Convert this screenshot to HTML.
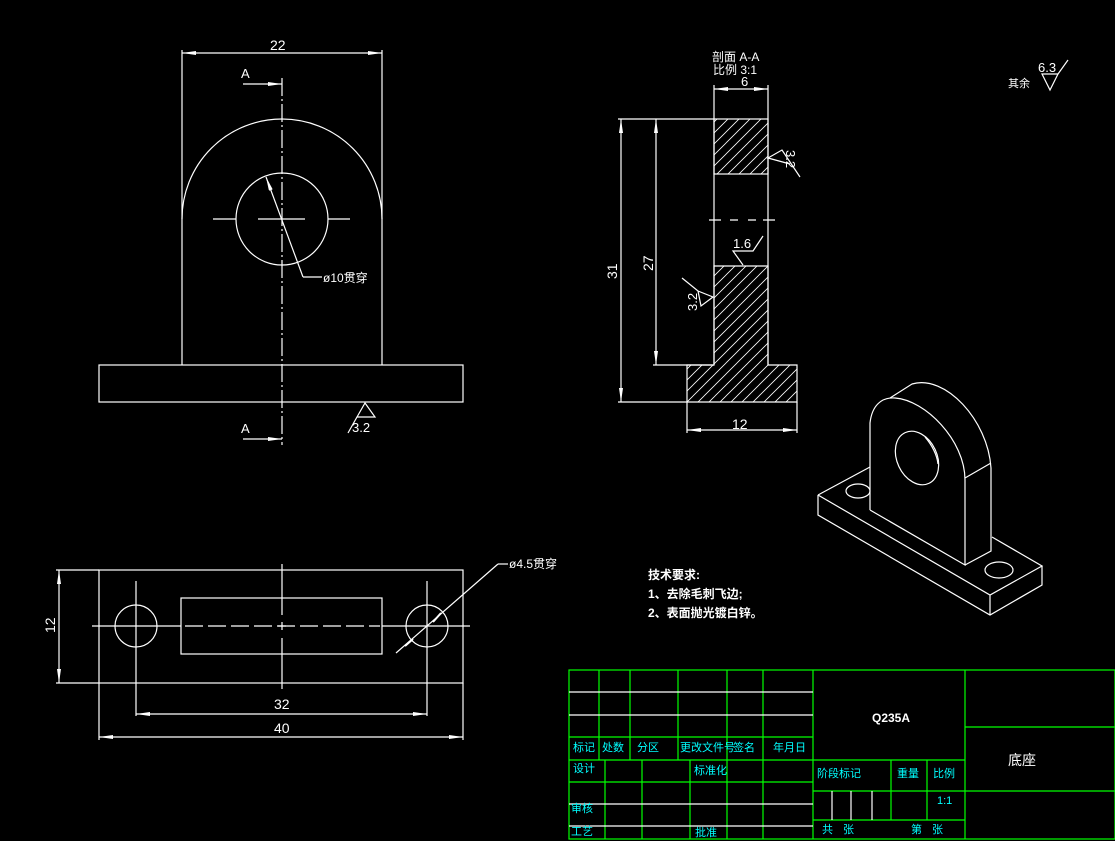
<!DOCTYPE html>
<html><head><meta charset="utf-8">
<style>
html,body{margin:0;padding:0;background:#000;}
svg{display:block;}
text{font-family:"Liberation Sans","WenQuanYi Zen Hei","Noto Sans CJK SC",sans-serif;}
</style></head>
<body>
<svg width="1115" height="841" viewBox="0 0 1115 841" xmlns="http://www.w3.org/2000/svg">
<defs>
<marker id="a" viewBox="0 0 14 4" refX="14" refY="2" markerWidth="14" markerHeight="4" markerUnits="userSpaceOnUse" orient="auto-start-reverse">
<path d="M0,0 L14,2 L0,4 Z" fill="#fff"/></marker>
<pattern id="h" patternUnits="userSpaceOnUse" width="11" height="11">
<path d="M-3,3 L3,-3 M0,11 L11,0 M8,14 L14,8" stroke="#fff" stroke-width="0.8"/></pattern>
</defs>
<rect width="1115" height="841" fill="#000"/>
<g fill="none" stroke="#fff" stroke-width="1.2">
<!-- FRONT VIEW -->
<line x1="182" y1="50" x2="182" y2="365"/>
<line x1="382" y1="50" x2="382" y2="365"/>
<line x1="182" y1="53" x2="382" y2="53" marker-start="url(#a)" marker-end="url(#a)"/>
<path d="M182,219 A100,100 0 0 1 382,219"/>
<circle cx="282" cy="219" r="46"/>
<path d="M213,219 H236 M258,219 H305 M328,219 H350"/>
<line x1="282" y1="78" x2="282" y2="445" stroke-dasharray="18,3,2,3"/>
<rect x="99" y="365" width="364" height="37"/>
<line x1="243" y1="84" x2="282" y2="84" marker-end="url(#a)"/>
<line x1="243" y1="439" x2="282" y2="439" marker-end="url(#a)"/>
<line x1="303" y1="277" x2="266" y2="177" marker-end="url(#a)"/>
<line x1="303" y1="277" x2="322" y2="277"/>
<path d="M348,433 L357,417 L375,417 L365,403 L357,417"/>
<!-- TOP VIEW -->
<rect x="99" y="570" width="364" height="113"/>
<rect x="181" y="598" width="201" height="56"/>
<circle cx="136" cy="626" r="21"/>
<circle cx="427" cy="626" r="21"/>
<path d="M92,626 H181 M382,626 H470"/>
<line x1="185" y1="626" x2="380" y2="626" stroke-dasharray="18,5"/>
<path d="M282,564 V615 M278,626 H286 M282,622 V630 M282,638 V689"/>
<path d="M136,581 V716 M427,581 V716"/>
<line x1="136" y1="714" x2="427" y2="714" marker-start="url(#a)" marker-end="url(#a)"/>
<path d="M99,683 V740 M463,683 V740"/>
<line x1="99" y1="737" x2="463" y2="737" marker-start="url(#a)" marker-end="url(#a)"/>
<path d="M56,570 H99 M56,683 H99"/>
<line x1="59" y1="570" x2="59" y2="683" marker-start="url(#a)" marker-end="url(#a)"/>
<line x1="396" y1="653" x2="498" y2="564"/>
<line x1="498" y1="564" x2="508" y2="564"/>
<path d="M427,626 m14,-13 l-8,9 M413,639 l-8,7" stroke-width="2"/>
<!-- SECTION A-A -->
<rect x="714" y="119" width="54" height="55" fill="url(#h)"/>
<path d="M714,266 H768 V365 H797 V402 H687 V365 H714 Z" fill="url(#h)"/>
<path d="M714,85 V365 M768,85 V365"/>
<line x1="714" y1="89" x2="768" y2="89" marker-start="url(#a)" marker-end="url(#a)"/>
<path d="M709,220 H721 M730,220 H738 M748,220 H756 M763,220 H775"/>
<path d="M618,119 H714 M618,402 H687 M653,365 H714"/>
<line x1="621" y1="119" x2="621" y2="402" marker-start="url(#a)" marker-end="url(#a)"/>
<line x1="656" y1="119" x2="656" y2="365" marker-start="url(#a)" marker-end="url(#a)"/>
<path d="M687,402 V433 M797,402 V433"/>
<line x1="687" y1="430" x2="797" y2="430" marker-start="url(#a)" marker-end="url(#a)"/>
<path d="M800,177 L782,150 L768,158 L790,164"/>
<path d="M763,236 L753,251 L733,251 L743,265"/>
<path d="M682,278 L698,291 L713,297 L701,306 L698,291"/>
<!-- 6.3 -->
<path d="M1068,60 L1058,74 L1042,74 L1050,90 L1058,74"/>
<!-- ISOMETRIC -->
<path d="M818,495 L990,595 L1042,566 L992,537 M818,495 L870,467 M818,495 V515 L990,615 L1042,585 V566 M990,595 V615"/>
<ellipse cx="858" cy="491" rx="12" ry="7"/>
<ellipse cx="999" cy="570" rx="14" ry="8"/>
<path d="M870,510 V423 C872,405 882,397 895,398 C925,400 965,440 965,480 V565 L870,510"/>
<path d="M890,398 L912,384 C945,374 988,420 991,468 V551 L965,565 M965,478 L991,463"/>
<ellipse cx="917" cy="458" rx="20" ry="28" transform="rotate(-25 917 458)"/>
<path d="M925,437 C932,445 937,455 938,464"/>
</g>
<g fill="#fff" font-size="13">
<text x="270" y="50" font-size="14">22</text>
<text x="241" y="78" font-size="13">A</text>
<text x="241" y="433" font-size="13">A</text>
<text x="323" y="282" font-size="12">ø10贯穿</text>
<text x="352" y="432" font-size="13">3.2</text>
<text x="509" y="568" font-size="12">ø4.5贯穿</text>
<text x="274" y="709" font-size="14">32</text>
<text x="274" y="733" font-size="14">40</text>
<text transform="translate(55,633) rotate(-90)" font-size="14">12</text>
<text x="712" y="61" font-size="12">剖面 A-A</text>
<text x="713" y="74" font-size="12">比例 3:1</text>
<text x="741" y="86" font-size="13">6</text>
<text x="732" y="429" font-size="14">12</text>
<text transform="translate(617,279) rotate(-90)" font-size="14">31</text>
<text transform="translate(653,271) rotate(-90)" font-size="14">27</text>
<text transform="translate(786,150) rotate(90)" font-size="13">3.2</text>
<text x="733" y="248" font-size="13">1.6</text>
<text transform="translate(697,311) rotate(-90)" font-size="13">3.2</text>
<text x="1008" y="87" font-size="11">其余</text>
<text x="1038" y="72" font-size="13">6.3</text>
<text x="648" y="579" font-size="12" font-weight="bold">技术要求:</text>
<text x="648" y="598" font-size="12" font-weight="bold">1、去除毛刺飞边;</text>
<text x="648" y="617" font-size="12" font-weight="bold">2、表面抛光镀白锌。</text>
<text x="872" y="722" font-size="12" font-weight="bold">Q235A</text>
<text x="1008" y="765" font-size="14">底座</text>
</g>
<!-- TITLE BLOCK -->
<g fill="none" stroke="#00ff00" stroke-width="1.2">
<rect x="569" y="670" width="546" height="169"/>
<path d="M569,737 H813 M569,760 H813 M569,782 H813 M813,760 H965 M813,791 H1115 M813,820 H965 M965,727 H1115"/>
<path d="M599,670 V760 M630,670 V760 M678,670 V760 M727,670 V839 M763,670 V839 M813,670 V839 M965,670 V839"/>
<path d="M605,760 V839 M642,760 V839 M690,760 V839 M891,760 V820 M927,760 V820"/>
</g>
<g stroke="#fff" stroke-width="1.2">
<path d="M569,692 H813 M569,715 H813 M569,804 H813 M569,826 H813 M832,791 V820 M851,791 V820 M872,791 V820"/>
</g>
<g fill="#00ffff" font-size="11">
<text x="573" y="751">标记</text>
<text x="602" y="751">处数</text>
<text x="637" y="751">分区</text>
<text x="680" y="751">更改文件号</text>
<text x="733" y="751">签名</text>
<text x="773" y="751">年月日</text>
<text x="573" y="772">设计</text>
<text x="694" y="774">标准化</text>
<text x="817" y="777">阶段标记</text>
<text x="897" y="777">重量</text>
<text x="933" y="777">比例</text>
<text x="937" y="804">1:1</text>
<text x="571" y="812">审核</text>
<text x="571" y="835">工艺</text>
<text x="695" y="836">批准</text>
<text x="822" y="833">共</text><text x="843" y="833">张</text>
<text x="911" y="833">第</text><text x="932" y="833">张</text>
</g>
</svg>
</body></html>
